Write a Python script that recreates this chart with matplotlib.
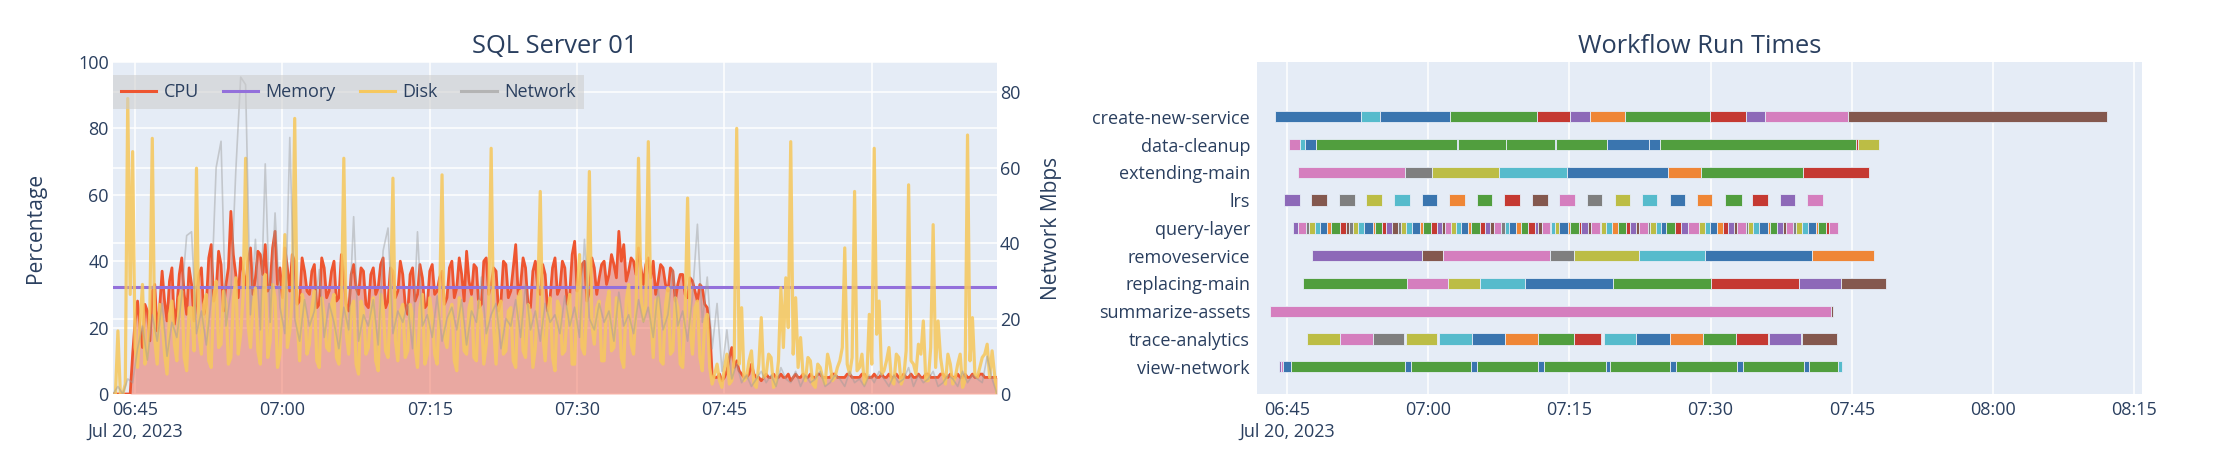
import numpy as np
import pandas as pd
import matplotlib
matplotlib.use("Agg")
import matplotlib.pyplot as plt
import matplotlib.dates as mdates
from matplotlib.lines import Line2D

plt.rcParams['font.family'] = ['Open Sans', 'DejaVu Sans']

TEXT = '#2a3f5f'
BG = '#e5ecf6'

# ---------------- SQL Server 01 metrics ----------------
# cpu / disk / network: samples on the full 30 s grid starting 06:42:45
# cpu_mid / disk_mid: the samples taken 15 s after each of those
sample_start = '2023-07-20 06:42:45'

cpu = [
    0, 0, 0, 0, 12, 28, 14, 25, 31, 19,
    37, 22, 38, 26, 41, 24, 33, 29, 38, 27,
    45, 31, 39, 33, 55, 36, 41, 32, 44, 35,
    42, 45, 33, 49, 38, 44, 31, 40, 28, 37,
    30, 39, 27, 38, 31, 40, 29, 36, 25, 39,
    30, 37, 26, 38, 32, 41, 28, 37, 31, 36,
    24, 38, 30, 35, 27, 39, 31, 37, 29, 40,
    32, 36, 43, 30, 38, 27, 41, 33, 37, 28,
    39, 31, 45, 33, 38, 26, 40, 30, 36, 29,
    41, 32, 38, 30, 46, 34, 40, 31, 38, 35,
    40, 36, 39, 49, 45, 37, 40, 44, 33, 41,
    40, 34, 38, 31, 37, 33, 36, 29, 34, 28,
    32, 26, 6, 5, 4, 7, 14, 10, 6, 5,
    9, 5, 4, 6, 5, 5, 6, 5, 4, 6,
    5, 5, 6, 5, 6, 5, 5, 6, 5, 5,
    6, 5, 5, 6, 5, 6, 5, 5, 6, 5,
    5, 6, 5, 5, 6, 5, 6, 5, 5, 6,
    5, 5, 6, 5, 5, 6, 5, 6, 5, 5,
    5,
]
cpu_mid = [
    0, 0, 0, 0, 22, 20, 27, 16, 33, 26,
    28, 34, 21, 36, 30, 38, 22, 36, 24, 41,
    28, 43, 25, 38, 42, 29, 37, 40, 30, 43,
    36, 31, 44, 33, 29, 38, 42, 27, 41, 31,
    37, 26, 41, 29, 37, 28, 42, 27, 36, 32,
    38, 27, 36, 30, 39, 26, 38, 29, 40, 27,
    36, 28, 39, 26, 37, 30, 35, 27, 38, 29,
    41, 28, 34, 39, 26, 40, 30, 38, 25, 40,
    29, 38, 30, 41, 27, 37, 32, 39, 25, 38,
    30, 40, 27, 42, 31, 39, 28, 41, 30, 39,
    33, 42, 35, 40, 34, 41, 36, 38, 39, 35,
    30, 39, 33, 38, 28, 36, 30, 35, 31, 33,
    27, 20, 5, 6, 5, 11, 8, 7, 5, 6,
    6, 5, 5, 5, 6, 5, 5, 6, 5, 5,
    6, 5, 5, 6, 5, 5, 6, 5, 5, 6,
    5, 5, 6, 5, 5, 5, 6, 5, 5, 6,
    5, 5, 6, 5, 5, 6, 5, 5, 6, 5,
    6, 5, 5, 6, 5, 5, 6, 5, 5, 5,
]

disk = [
    0, 19, 0, 89, 73, 8, 33, 12, 77, 9,
    22, 6, 28, 10, 31, 7, 26, 68, 12, 30,
    8, 34, 15, 27, 11, 35, 18, 71, 14, 32,
    9, 36, 16, 29, 12, 48, 19, 83, 10, 27,
    15, 31, 8, 24, 13, 30, 9, 71, 12, 28,
    6, 25, 14, 29, 7, 26, 11, 65, 10, 27,
    13, 24, 8, 30, 12, 23, 9, 66, 14, 27,
    7, 25, 12, 29, 10, 24, 15, 74, 9, 28,
    13, 26, 8, 31, 11, 24, 14, 61, 10, 29,
    7, 26, 13, 30, 9, 42, 12, 67, 15, 28,
    10, 31, 14, 27, 8, 33, 12, 71, 22, 76,
    11, 29, 9, 32, 13, 26, 8, 59, 12, 28,
    7, 24, 3, 9, 2, 12, 4, 80, 26, 5,
    13, 2, 23, 6, 11, 3, 32, 35, 76, 29,
    17, 4, 10, 2, 8, 3, 9, 5, 10, 44,
    6, 61, 8, 3, 24, 74, 28, 7, 14, 3,
    11, 5, 63, 9, 15, 22, 4, 51, 22, 6,
    12, 3, 9, 2, 78, 23, 5, 11, 15, 13,
    0,
]
disk_mid = [
    0, 0, 3, 30, 14, 21, 9, 25, 16, 27,
    12, 24, 15, 29, 11, 26, 13, 18, 27, 10,
    29, 14, 31, 9, 28, 12, 30, 21, 27, 13,
    30, 11, 33, 8, 27, 14, 29, 22, 30, 12,
    26, 10, 29, 14, 27, 11, 25, 18, 26, 9,
    28, 12, 24, 10, 30, 13, 27, 16, 25, 11,
    27, 14, 26, 9, 29, 12, 28, 17, 24, 10,
    29, 13, 26, 11, 28, 9, 27, 20, 26, 12,
    25, 10, 29, 13, 27, 8, 30, 18, 24, 11,
    28, 12, 25, 9, 30, 14, 27, 21, 26, 10,
    27, 13, 29, 11, 28, 15, 26, 30, 27, 24,
    28, 10, 27, 12, 29, 9, 25, 20, 26, 11,
    22, 8, 6, 4, 8, 3, 11, 9, 4, 10,
    3, 9, 5, 12, 2, 10, 14, 20, 12, 8,
    6, 11, 3, 9, 5, 12, 4, 8, 14, 9,
    11, 7, 12, 5, 9, 18, 6, 10, 4, 12,
    3, 13, 10, 6, 12, 4, 14, 8, 11, 3,
    9, 5, 12, 4, 10, 6, 8, 12, 5, 6,
]

network = [
    0, 2, 0, 4, 3, 12, 18, 9, 21, 14,
    24, 10, 19, 15, 26, 42, 43, 16, 22, 13,
    25, 60, 67, 18, 27, 59, 84, 82, 21, 41,
    17, 61, 19, 48, 23, 16, 68, 20, 14, 25,
    18, 22, 33, 15, 24, 19, 12, 23, 17, 47,
    14, 21, 18, 25, 13, 38, 44, 16, 22, 19,
    24, 12, 43, 18, 21, 15, 26, 14, 20, 23,
    17, 25, 13, 22, 19, 31, 16, 21, 24, 12,
    20, 18, 25, 15, 29, 17, 22, 14, 24, 19,
    21, 16, 26, 18, 23, 15, 41, 20, 17, 24,
    19, 22, 14, 27, 18, 21, 16, 25, 19, 23,
    15, 28, 17, 21, 33, 18, 22, 14, 26, 45,
    19, 31, 12, 24, 6, 17, 4, 8, 3, 5,
    2, 4, 6, 3, 5, 2, 7, 4, 3, 6,
    2, 5, 3, 4, 6, 2, 3, 5, 4, 2,
    6, 3, 4, 2, 5, 3, 6, 4, 2, 5,
    3, 4, 7, 2, 5, 3, 4, 6, 2, 3,
    5, 4, 2, 6, 3, 5, 4, 3, 10, 4,
    0,
]

memory_level = 32.2

# ---------------- Workflow run times (minutes after 06:45) ----------------
# palette index: 0 blue, 1 orange, 2 green, 3 red, 4 purple,
#                5 brown, 6 pink, 7 gray, 8 olive, 9 cyan
workflows = ['create-new-service', 'data-cleanup', 'extending-main', 'lrs',
             'query-layer', 'removeservice', 'replacing-main',
             'summarize-assets', 'trace-analytics', 'view-network']

create_new_service = [(-1.31, 7.89, 0), (7.89, 9.84, 9), (9.84, 17.28, 0),
                      (17.28, 26.58, 2), (26.58, 30.02, 3), (30.02, 32.14, 4),
                      (32.14, 35.86, 1), (35.86, 44.9, 2), (44.9, 48.77, 3),
                      (48.77, 50.78, 4), (50.78, 59.6, 6), (59.6, 87.18, 5)]
data_cleanup = [(0.18, 1.35, 6), (1.35, 1.95, 9), (1.95, 3.08, 0),
                (3.08, 18.05, 2), (18.05, 18.16, 0), (18.16, 23.22, 2),
                (23.22, 23.29, 1), (23.29, 28.46, 2), (28.46, 28.55, 0),
                (28.55, 34.02, 2), (34.02, 38.44, 0), (38.44, 39.65, 0),
                (39.65, 60.43, 2), (60.43, 60.65, 3), (60.65, 62.88, 8)]
extending_main = [(1.17, 12.5, 6), (12.5, 15.43, 7), (15.43, 22.55, 8),
                  (22.55, 29.7, 9), (29.7, 40.53, 0), (40.53, 43.95, 1),
                  (43.95, 54.82, 2), (54.82, 61.87, 3)]
lrs = [(-0.32, 1.35, 4), (2.58, 4.25, 5), (5.52, 7.19, 7), (8.43, 10.12, 8),
       (11.36, 13.03, 9), (14.30, 15.93, 0), (17.20, 18.87, 1),
       (20.14, 21.81, 2), (23.05, 24.71, 3), (25.98, 27.72, 5),
       (28.92, 30.59, 6), (31.86, 33.49, 7), (34.80, 36.39, 8),
       (37.70, 39.36, 9), (40.64, 42.27, 0), (43.54, 45.20, 1),
       (46.57, 48.30, 2), (49.45, 51.07, 3), (52.37, 53.95, 4),
       (55.28, 56.90, 6)]
query_layer_starts = [
    0.64, 1.20, 2.05, 2.34, 2.94, 3.47, 4.25, 4.64, 5.59, 6.23,
    6.58, 7.01, 7.54, 8.14, 9.13, 9.31, 10.12, 10.55, 11.19, 11.79,
    12.14, 12.67, 13.28, 14.09, 14.44, 15.33, 15.93, 16.50, 16.74, 17.45,
    17.91, 18.44, 19.22, 19.58, 20.46, 20.99, 21.52, 21.95, 22.76, 23.12,
    23.58, 24.36, 24.82, 25.63, 26.30, 26.66, 27.12, 27.90, 28.07, 28.43,
    28.85, 29.84, 30.02, 31.01, 31.26, 31.97, 32.32, 33.21, 33.38, 33.91,
    34.55, 35.15, 36.04, 36.46, 37.10, 37.38, 38.34, 38.59, 39.22, 39.75,
    40.29, 41.21, 41.88, 42.59, 43.75, 44.36, 44.89, 45.67, 46.30, 46.83,
    47.47, 47.76, 48.73, 48.98, 49.56, 50.17, 51.07, 51.29, 52.08, 52.69,
    52.98, 53.77, 54.13, 54.74, 55.32, 56.18, 56.47, 57.26, 57.62,
]
query_layer_colors = [
    4, 6, 7, 8, 9, 0, 1, 2, 3, 5,
    7, 8, 9, 0, 1, 2, 3, 4, 5, 7,
    8, 9, 0, 1, 2, 3, 4, 5, 6, 8,
    9, 0, 1, 2, 3, 4, 5, 6, 7, 9,
    0, 1, 2, 3, 4, 5, 6, 7, 9, 8,
    0, 1, 2, 3, 4, 5, 6, 7, 8, 9,
    1, 2, 3, 4, 5, 6, 7, 8, 9, 0,
    2, 3, 4, 6, 8, 9, 0, 1, 3, 4,
    5, 6, 7, 8, 9, 0, 1, 2, 4, 5,
    6, 7, 8, 9, 0, 1, 2, 3, 6,
]
query_layer_end = 58.52
removeservice = [(2.69, 14.34, 4), (14.34, 16.57, 5), (16.57, 27.9, 6),
                 (27.9, 30.44, 7), (30.44, 37.38, 8), (37.38, 44.36, 9),
                 (44.36, 55.75, 0), (55.75, 62.38, 1)]
replacing_main = [(1.66, 12.78, 2), (12.78, 17.1, 6), (17.1, 20.46, 8),
                  (20.46, 25.24, 9), (25.24, 34.62, 0), (34.62, 45.1, 2),
                  (45.1, 54.38, 3), (54.38, 58.85, 4), (58.85, 63.64, 5)]
summarize_assets = [(-1.84, 57.77, 6), (57.77, 58.06, 5)]
trace_analytics = [(2.16, 5.66, 8), (5.66, 9.13, 6), (9.13, 12.39, 7),
                   (12.67, 15.93, 8), (16.14, 19.68, 9), (19.68, 23.12, 0),
                   (23.12, 26.66, 1), (26.66, 30.48, 2), (30.48, 33.38, 3),
                   (33.67, 37.03, 9), (37.03, 40.71, 0), (40.71, 44.16, 1),
                   (44.16, 47.74, 2), (47.74, 51.07, 3), (51.18, 54.60, 4),
                   (54.74, 58.45, 5)]
view_network = [(-0.85, -0.64, 4), (-0.64, -0.39, 6), (-0.39, 0.43, 0),
                (0.43, 12.52, 2), (12.52, 13.14, 0), (13.14, 19.56, 2),
                (19.56, 20.15, 0), (20.15, 26.62, 2), (26.62, 27.28, 0),
                (27.28, 33.85, 2), (33.85, 34.33, 0), (34.33, 40.74, 2),
                (40.74, 41.36, 0), (41.36, 47.8, 2), (47.8, 48.45, 0),
                (48.45, 54.96, 2), (54.96, 55.5, 0), (55.5, 58.56, 2),
                (58.56, 58.99, 9)]

palette = ['#3a75af', '#ef8636', '#519e3e', '#c53932', '#8d69b8',
           '#84584e', '#d57ebe', '#7f7f7f', '#bcbd45', '#56bbcc']

query_ends = query_layer_starts[1:] + [query_layer_end]
query_layer = list(zip(query_layer_starts, query_ends, query_layer_colors))

run_segments = [create_new_service, data_cleanup, extending_main, lrs,
                query_layer, removeservice, replacing_main, summarize_assets,
                trace_analytics, view_network]

# merge the 30 s and the in-between 15 s samples
cpu_all = np.empty(len(cpu) + len(cpu_mid))
cpu_all[0::2] = cpu
cpu_all[1::2] = cpu_mid
disk_all = np.empty(len(disk) + len(disk_mid))
disk_all[0::2] = disk
disk_all[1::2] = disk_mid

times15 = pd.date_range(sample_start, periods=len(cpu_all), freq='15s')
times30 = pd.date_range(sample_start, periods=len(network), freq='30s')
t15 = mdates.date2num(times15.to_pydatetime())
t30 = mdates.date2num(times30.to_pydatetime())
memory = [memory_level] * len(t15)

# ---------------- figure ----------------
W, H = 2232, 468
fig = plt.figure(figsize=(W / 100, H / 100), dpi=100)


def style_axes(a):
    a.set_facecolor(BG)
    for s in a.spines.values():
        s.set_visible(False)
    a.tick_params(length=0, labelsize=13, labelcolor=TEXT)


ax = fig.add_axes([113 / W, 74 / H, 884 / W, 332 / H])
style_axes(ax)
ax.set_axisbelow(True)
ax.grid(True, color='white', lw=1.1)
ax.set_ylim(0, 100)
ax.set_yticks([0, 20, 40, 60, 80, 100])
ax.tick_params(axis='y', pad=3)
ax.tick_params(axis='x', pad=5)

net_max = 88
net_ticks = [20, 40, 60, 80]
for v in net_ticks:
    ax.axhline(v / net_max * 100, color='white', lw=1.1, zorder=0.6)

cpu_color = '#ee5530'
mem_color = '#9370db'
disk_color = '#f6c85f'
net_color = '#9a9a9a'

ax.fill_between(t15, 0, cpu_all, color='#ef553b', alpha=0.45, lw=0, zorder=1)
ax.plot(t15, cpu_all, color=cpu_color, lw=2.0, zorder=2)
ax.plot(t15, memory, color=mem_color, lw=2.2, zorder=3)
ax.plot(t15, disk_all, color=disk_color, lw=2.3, alpha=0.88, zorder=4)

ax2 = ax.twinx()
ax2.set_ylim(0, net_max)
ax2.set_yticks([0] + net_ticks)
for s in ax2.spines.values():
    s.set_visible(False)
ax2.tick_params(length=0, labelsize=13, labelcolor=TEXT, pad=2)
ax2.plot(t30, network, color=net_color, lw=1.2, alpha=0.45)

ax.set_xlim(t15[0], t15[-1])
left_ticks = pd.date_range('2023-07-20 06:45', '2023-07-20 08:00', freq='15min')
left_labels = [d.strftime('%H:%M') for d in left_ticks]
left_labels[0] = left_labels[0] + '\nJul 20, 2023'
ax.set_xticks(mdates.date2num(left_ticks.to_pydatetime()))
ax.set_xticklabels(left_labels, linespacing=1.3)

handles = [Line2D([], [], color=cpu_color, lw=2.2),
           Line2D([], [], color=mem_color, lw=2.2),
           Line2D([], [], color=disk_color, lw=2.2),
           Line2D([], [], color='#b4b4b4', lw=2.2)]
leg = ax2.legend(handles, ['CPU', 'Memory', 'Disk', 'Network'], ncol=4,
                 loc='upper left', bbox_to_anchor=(0, (394 - 75) / 332),
                 borderaxespad=0, fontsize=13, frameon=True, fancybox=False,
                 handlelength=1.95, handletextpad=0.4, columnspacing=1.33,
                 borderpad=0.45)
leg.get_frame().set_facecolor('#cccccc')
leg.get_frame().set_alpha(0.55)
leg.get_frame().set_linewidth(0)
for txt in leg.get_texts():
    txt.set_color(TEXT)

fig.text(555 / W, 1 - 53 / H, 'SQL Server 01', ha='center', va='baseline',
         fontsize=18.4, color=TEXT)
fig.text(36 / W, 1 - 228 / H, 'Percentage', ha='center', va='center',
         rotation=90, fontsize=15.1, color=TEXT)
fig.text(1052 / W, 1 - 228 / H, 'Network Mbps', ha='center', va='center',
         rotation=90, fontsize=15.1, color=TEXT)

# ---------------- Workflow run times ----------------
bx = fig.add_axes([1257 / W, 74 / H, 885 / W, 332 / H])
style_axes(bx)
bx.set_axisbelow(True)
bx.grid(True, axis='x', color='white', lw=1.1)
base = mdates.date2num(pd.Timestamp('2023-07-20 06:45').to_pydatetime())

for i, segs in enumerate(run_segments):
    for s, e, c in segs:
        bx.barh(i, (e - s) / 1440, left=base + s / 1440, height=0.41,
                color=palette[c], edgecolor=BG, linewidth=0.6, zorder=2)

bx.set_yticks(range(len(workflows)))
bx.set_yticklabels(workflows)
bx.set_ylim(9.98, -1.97)
bx.tick_params(axis='y', pad=5)
bx.tick_params(axis='x', pad=5)
bx.set_xlim(base - 3.2 / 1440, base + 90.85 / 1440)
right_ticks = pd.date_range('2023-07-20 06:45', '2023-07-20 08:15', freq='15min')
right_labels = [d.strftime('%H:%M') for d in right_ticks]
right_labels[0] = right_labels[0] + '\nJul 20, 2023'
bx.set_xticks(mdates.date2num(right_ticks.to_pydatetime()))
bx.set_xticklabels(right_labels, linespacing=1.3)

fig.text(1700 / W, 1 - 53 / H, 'Workflow Run Times', ha='center',
         va='baseline', fontsize=18.4, color=TEXT)

fig.savefig('out.png', dpi=100)
